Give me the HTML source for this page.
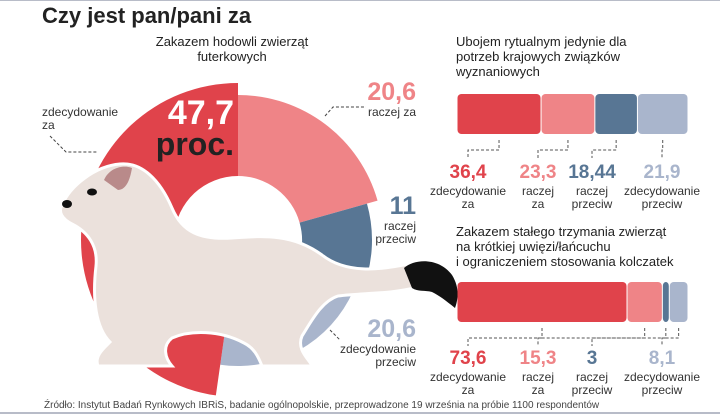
<!DOCTYPE html>
<html><head><meta charset="utf-8">
<style>
body{margin:0;width:720px;height:414px;overflow:hidden;background:#fff;font-family:"Liberation Sans",sans-serif;}
svg text{font-family:"Liberation Sans","Noto Sans CJK SC",sans-serif;}
</style></head>
<body>
<svg id="c" width="720" height="414" viewBox="0 0 720 414">
<rect x="0" y="0" width="720" height="1" fill="#b8bcc8"/>
<rect x="0" y="412" width="720" height="2" fill="#b8bcc8"/>
<text x="42" y="23" font-size="22" font-weight="bold" fill="#222">Czy jest pan/pani za</text>
<text x="232" y="46" font-size="13" fill="#222" text-anchor="middle">Zakazem hodowli zwierząt</text>
<text x="232" y="61" font-size="13" fill="#222" text-anchor="middle">futerkowych</text>
<g id="donut"></g>
<g id="weasel">
<path d="M62,205 C70,186 95,166 120,164 C142,162 160,180 172,208 C182,232 200,240 232,238 C262,236 292,233 322,255 C346,274 380,270 408,264 L414,288 C390,294 362,293 338,296 C322,301 312,320 302,336 C296,350 310,360 312,366 L262,366 C258,356 254,348 244,343 C220,330 190,330 172,338 C162,346 165,358 172,366 L98,366 C94,356 104,348 110,342 C96,328 92,300 96,266 C98,246 88,232 72,224 C62,219 58,212 62,205 Z" fill="#ebe1dc" stroke="#fff" stroke-width="3"/>
<path d="M104,180 C110,166 126,165 132,168 C130,180 126,190 118,190 Z" fill="#b98a8a"/>
<ellipse cx="92" cy="192" rx="5" ry="3.5" fill="#111"/>
<ellipse cx="67" cy="204" rx="5" ry="4" fill="#111"/>
<path d="M404,268 C415,258 440,258 452,275 C460,288 458,300 455,308 C445,300 440,296 432,292 C425,290 418,292 412,288 Z" fill="#111"/>
</g>
<g id="donutLabels"></g>
<text x="456" y="46" font-size="13" fill="#222">Ubojem rytualnym jedynie dla</text>
<text x="456" y="61" font-size="13" fill="#222">potrzeb krajowych związków</text>
<text x="456" y="76" font-size="13" fill="#222">wyznaniowych</text>
<text x="456" y="236" font-size="13" fill="#222">Zakazem stałego trzymania zwierząt</text>
<text x="456" y="251" font-size="13" fill="#222">na krótkiej uwięzi/łańcuchu</text>
<text x="456" y="266" font-size="13" fill="#222">i ograniczeniem stosowania kolczatek</text>
<g id="bars"></g>
<text x="44" y="408" font-size="10" fill="#444">Źródło: Instytut Badań Rynkowych IBRiS, badanie ogólnopolskie, przeprowadzone 19 września na próbie 1100 respondentów</text>
</svg>
<script>
const categories = ["zdecydowanie za","raczej za","raczej przeciw","zdecydowanie przeciw"];
const donutValues = [47.7, 20.6, 11, 20.6];
const donutLabels = ["47,7","20,6","11","20,6"];
const bar1Values = [36.4, 23.3, 18.44, 21.9];
const bar1Labels = ["36,4","23,3","18,44","21,9"];
const bar2Values = [73.6, 15.3, 3, 8.1];
const bar2Labels = ["73,6","15,3","3","8,1"];
const colors = ["#e0434b","#ef8487","#587694","#a9b5cc"];
const NS = "http://www.w3.org/2000/svg";
function mk(tag, attrs, parent){const e=document.createElementNS(NS,tag);for(const k in attrs)e.setAttribute(k,attrs[k]);parent.appendChild(e);return e;}

const cx=238, cy=240, rIn=64;
const radii=[157,145,134,126];
const dg=document.getElementById('donut');
const tot=donutValues.reduce((a,b)=>a+b,0);
function pt(r,a){return [cx+r*Math.sin(a), cy-r*Math.cos(a)];}
let a0=0;
const order=[1,2,3,0];
order.forEach(i=>{
  const a1=a0+donutValues[i]/tot*2*Math.PI;
  const R=radii[i];
  const p1=pt(R,a0),p2=pt(R,a1),p3=pt(rIn,a1),p4=pt(rIn,a0);
  const large=(a1-a0)>Math.PI?1:0;
  const s=mk('path',{d:`M${p1} A${R},${R} 0 ${large} 1 ${p2} L${p3} A${rIn},${rIn} 0 ${large} 0 ${p4} Z`,fill:colors[i]},dg);
  
  
  a0=a1;
});
const dl=document.getElementById('donutLabels');
const big=mk('text',{x:234,y:124,'font-size':34,'font-weight':'bold',fill:'#fff','text-anchor':'end'},dl);
big.textContent=donutLabels[0];


const pr=mk('text',{x:234,y:155,'font-size':32,'font-weight':'bold',fill:'#222','text-anchor':'end'},dl);
pr.textContent="proc.";


const dLab=[
 {i:1,x:416,y:100,lines:["raczej za"]},
 {i:2,x:416,y:214,lines:["raczej","przeciw"]},
 {i:3,x:416,y:337,lines:["zdecydowanie","przeciw"]}];
dLab.forEach(o=>{
  const t=mk('text',{x:o.x,y:o.y,'font-size':25,'font-weight':'bold',fill:colors[o.i],'text-anchor':'end'},dl);
  t.textContent=donutLabels[o.i];
  
  
  o.lines.forEach((l,k)=>{
    const s=mk('text',{x:o.x,y:o.y+16+k*13,'font-size':12,fill:'#333','text-anchor':'end'},dl);
    s.textContent=l;
    
    
  });
});
const za1=mk('text',{x:42,y:116,'font-size':12,fill:'#333'},dl);za1.textContent="zdecydowanie";


const za2=mk('text',{x:42,y:129,'font-size':12,fill:'#333'},dl);za2.textContent="za";


[["M50,136 L66,152 L98,152"],["M325,116 L333,107 L366,107"],["M330,330 L340,340"]].forEach(p=>{
  const l=mk('path',{d:p[0],fill:'none',stroke:'#444','stroke-dasharray':'3,2'},dl);
  
  
});

const bg=document.getElementById('bars');
const bx0=457,bw=231;
const labX=[468,538,592,662];
function bar(vals,labs,y,ly,name){
  const t=vals.reduce((a,b)=>a+b,0);
  let x=bx0;
  vals.forEach((v,i)=>{
    const w=v/t*bw;
    const r=mk('rect',{x:x+0.5,y:y,width:Math.max(w-1,1),height:40,rx:4,fill:colors[i]},bg);
    
    
    const mid=x+w/2;
    const l=mk('path',{d:`M${mid},${y+46} L${mid},${y+56} L${labX[i]},${y+56} L${labX[i]},${y+64}`,fill:'none',stroke:'#555','stroke-dasharray':'3,2'},bg);
    
    
    x+=w;
  });
  labs.forEach((s,i)=>{
    const t2=mk('text',{x:labX[i],y:ly,'font-size':19,'font-weight':'bold',fill:colors[i],'text-anchor':'middle'},bg);
    t2.textContent=s;
    
    
    const words=categories[i].split(' ');
    words.forEach((w,k)=>{
      const c=mk('text',{x:labX[i],y:ly+17+k*13,'font-size':12,fill:'#333','text-anchor':'middle'},bg);
      c.textContent=w;
      
      
    });
  });
}
bar(bar1Values,bar1Labels,94,178,'bar1');
bar(bar2Values,bar2Labels,282,364,'bar2');
</script>
</body></html>
